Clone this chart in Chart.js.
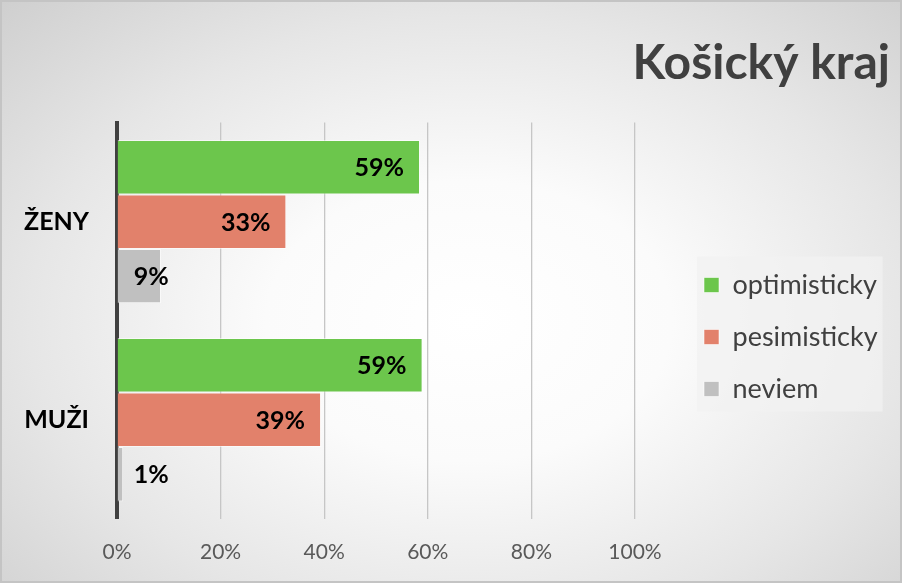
<!DOCTYPE html>
<html>
<head>
<meta charset="utf-8">
<script src="https://cdn.jsdelivr.net/npm/chart.js@4.4.1/dist/chart.umd.min.js"></script>
<style>
  html, body { margin: 0; padding: 0; }
  #wrap {
    position: relative; width: 902px; height: 583px;
    box-shadow: inset 0 0 0 2px #c4c4c4;
    background: radial-gradient(ellipse 75% 80% at 52% 55%, #ffffff 0%, #fbfbfb 30%, #e6e6e6 65%, #cdcdcd 100%);
  }
  canvas { display: block; position: absolute; left: 0; top: 0; }
</style>
</head>
<body>
<div id="wrap"><canvas id="c" width="902" height="583"></canvas></div>
<script>
const titleText = 'Košický kraj';
const categories = ['ŽENY', 'MUŽI'];
const seriesNames = ['optimisticky', 'pesimisticky', 'neviem'];
const optimisticky = [58.5, 59.0];
const pesimisticky = [32.7, 39.4];
const neviem = [8.5, 1.2];
const xTicks = [0, 20, 40, 60, 80, 100];

const colors = ['#6cc64c', '#e2816b', '#c0c0c0'];
const FONT = 'Lato, "Open Sans", sans-serif';

const LEGEND_WIDTH = 255;
const LEGEND_SHIFT_X = 44;
const LEGEND_SHIFT_Y = 44;

const legendShift = {
  id: 'legendShift',
  beforeUpdate(chart) {
    const lg = chart.legend;
    if (lg && !lg._wrappedFit) {
      lg._wrappedFit = true;
      const orig = lg.fit;
      lg.fit = function () { orig.call(this); this.width = Math.max(this.width, LEGEND_WIDTH); };
    }
  },
  afterLayout(chart) {
    const lg = chart.legend;
    if (lg) { lg.left += LEGEND_SHIFT_X; lg.top += LEGEND_SHIFT_Y; lg.bottom += LEGEND_SHIFT_Y; }
  },
  beforeDraw(chart) {
    const lg = chart.legend;
    if (!lg || !lg.legendHitBoxes || !lg.legendHitBoxes.length) return;
    const hb = lg.legendHitBoxes;
    let l = Infinity, t = Infinity, r = -Infinity, b = -Infinity;
    hb.forEach(h => { l = Math.min(l, h.left); t = Math.min(t, h.top); r = Math.max(r, h.left + h.width); b = Math.max(b, h.top + h.height); });
    const ctx = chart.ctx;
    ctx.save();
    ctx.fillStyle = 'rgba(242,242,242,0.75)';
    ctx.fillRect(l - 7, t - 15, (r - l) + 12, (b - t) + 24);
    ctx.restore();
  }
};

const dataLabels = {
  id: 'dataLabels',
  afterDatasetsDraw(chart) {
    const ctx = chart.ctx;
    ctx.save();
    ctx.font = 'bold 25px ' + FONT;
    ctx.fillStyle = '#000000';
    ctx.textAlign = 'right';
    ctx.textBaseline = 'middle';
    chart.data.datasets.forEach((ds, di) => {
      const meta = chart.getDatasetMeta(di);
      meta.data.forEach((bar, i) => {
        const txt = Math.round(ds.data[i]) + '%';
        const x = Math.max(bar.x - 16, bar.base + 51);
        ctx.fillText(txt, x, bar.y + 1);
      });
    });
    ctx.restore();
  }
};

new Chart(document.getElementById('c'), {
  type: 'bar',
  data: {
    labels: categories,
    datasets: [
      { label: seriesNames[0], data: optimisticky, backgroundColor: colors[0] },
      { label: seriesNames[1], data: pesimisticky, backgroundColor: colors[1] },
      { label: seriesNames[2], data: neviem, backgroundColor: colors[2] }
    ]
  },
  options: {
    indexAxis: 'y',
    responsive: false,
    animation: false,
    devicePixelRatio: 1,
    layout: { padding: { left: -4, right: 12, top: 0, bottom: -3 } },
    datasets: {
      bar: {
        categoryPercentage: 0.825,
        barPercentage: 1.0,
        borderColor: 'rgba(255,255,255,0.55)',
        borderWidth: 1
      }
    },
    scales: {
      x: {
        min: 0, max: 100,
        afterBuildTicks(scale) { scale.ticks = xTicks.map(v => ({ value: v })); },
        ticks: {
          callback: v => v + '%',
          color: '#595959',
          font: { family: FONT, size: 21 },
          padding: 21
        },
        grid: {
          color: ctx => (ctx.tick && ctx.tick.value === 0) ? 'rgba(0,0,0,0)' : '#c6c6c6',
          lineWidth: 1.3,
          drawTicks: false
        },
        border: { display: false }
      },
      y: {
        ticks: {
          color: '#000000',
          font: { family: FONT, size: 25, weight: 'bold' },
          padding: 28
        },
        grid: { display: false, drawTicks: false },
        border: { display: true, color: '#404040', width: 4 }
      }
    },
    plugins: {
      title: {
        display: true,
        text: titleText,
        align: 'end',
        color: '#404040',
        font: { family: FONT, size: 48, weight: 'bold' },
        padding: { top: 35, bottom: 30 }
      },
      legend: {
        position: 'right',
        align: 'center',
        labels: {
          boxWidth: 15,
          boxHeight: 15,
          padding: 25,
          color: '#404040',
          font: { family: FONT, size: 27 }
        }
      },
      tooltip: { enabled: false }
    }
  },
  plugins: [legendShift, dataLabels]
});
</script>
</body>
</html>
